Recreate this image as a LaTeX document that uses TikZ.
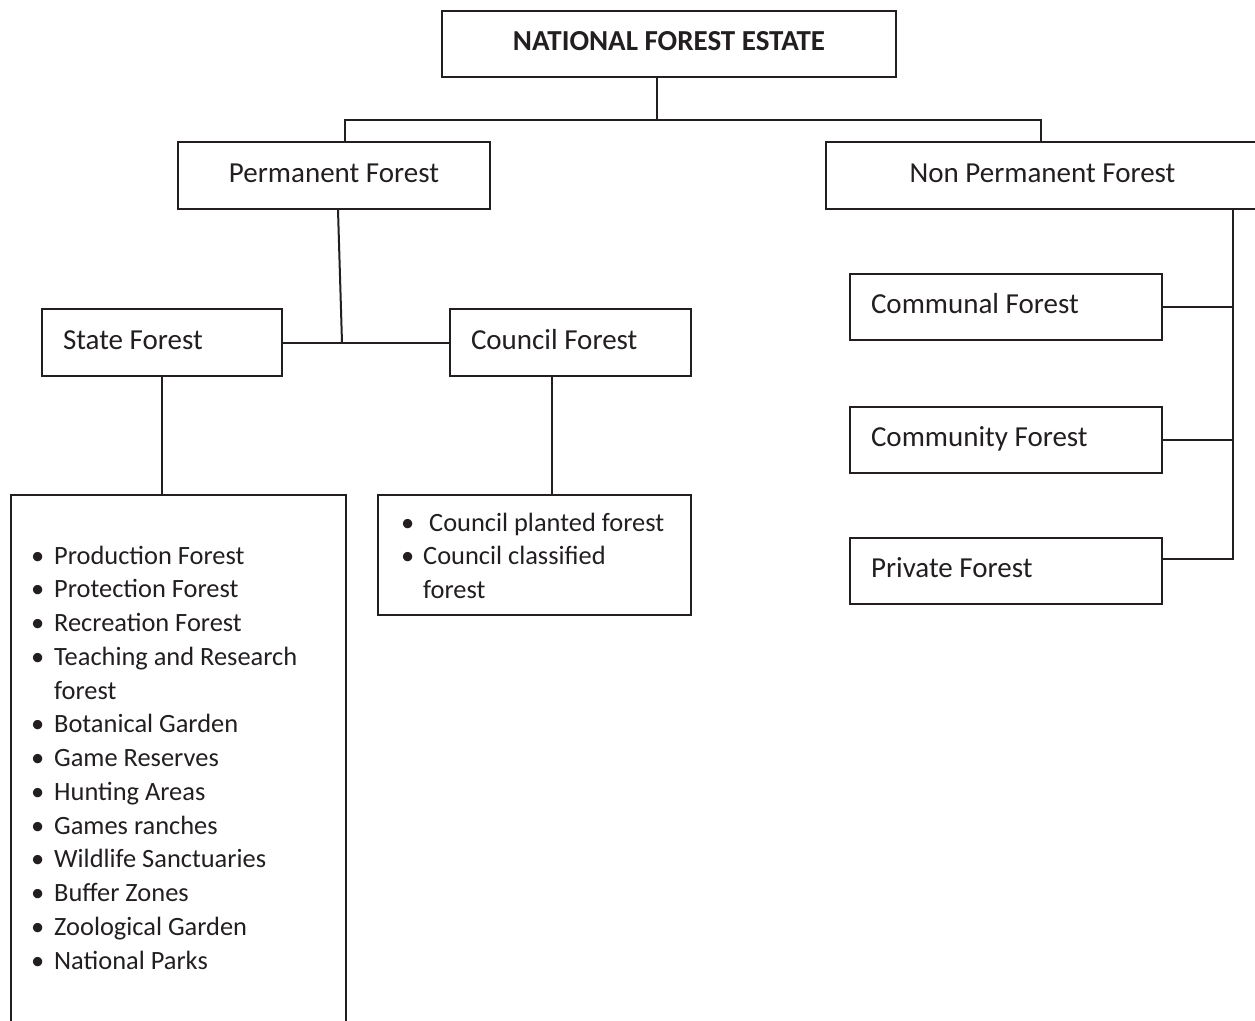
\documentclass[tikz,border=0pt]{standalone}
\usepackage{fontspec}
\setmainfont{Carlito}
\definecolor{ink}{HTML}{231F20}
% bullet item: fixed-width bullet column, then the text
\newcommand\itm[2][23pt]{\makebox[#1][l]{\textbullet}#2}
\newcommand\cont[2][23pt]{\makebox[#1][l]{}#2}
\tikzset{
  box/.style={draw=ink, line width=2pt, rectangle, inner ysep=0pt,
    text=ink, anchor=north west, font=\fontsize{29}{34}\selectfont,
    text height=20pt, text depth=7pt},
  lbox/.style={box, align=flush left, inner xsep=21pt},
  link/.style={draw=ink, line width=2pt},
  listtxt/.style={text=ink, inner sep=0pt, anchor=base west},
}
\begin{document}
\begin{tikzpicture}[x=1pt,y=-1pt]
\clip (0,0) rectangle (1255,1020);
\fill[white] (0,0) rectangle (1255,1020);

% top level
\node[box, font=\bfseries\fontsize{29}{34}\selectfont,
      minimum width=454pt, minimum height=66pt] (top) at (441,10) {NATIONAL FOREST ESTATE};

% second level
\node[box, minimum width=312pt, minimum height=67pt] (perm) at (177,141) {Permanent Forest};
\node[box, minimum width=433pt, minimum height=67pt] (nonperm) at (825,141) {Non Permanent Forest};

% permanent forest branches
\node[lbox, text width=198pt, minimum height=67pt] (state) at (41,308) {State Forest};
\node[lbox, text width=199pt, minimum height=67pt] (council) at (449,308) {Council Forest};

% non permanent forest branches
\node[lbox, text width=270pt, minimum height=66pt] (communal) at (849,273) {Communal Forest};
\node[lbox, text width=270pt, minimum height=66pt] (community) at (849,406) {Community Forest};
\node[lbox, text width=270pt, minimum height=66pt] (private) at (849,537) {Private Forest};

% list boxes
\node[box, minimum width=335pt, minimum height=560pt] (statelist) at (10,494) {};
\node[box, minimum width=313pt, minimum height=120pt] (councillist) at (377,494) {};

\node[listtxt] (stateitems) at (31,564) {\fontsize{26.4}{33.75}\selectfont
  \begin{tabular}[t]{@{}l@{}}
  \itm{Production Forest}\\
  \itm{Protection Forest}\\
  \itm{Recreation Forest}\\
  \itm{Teaching and Research}\\
  \cont{forest}\\
  \itm{Botanical Garden}\\
  \itm{Game Reserves}\\
  \itm{Hunting Areas}\\
  \itm{Games ranches}\\
  \itm{Wildlife Sanctuaries}\\
  \itm{Buffer Zones}\\
  \itm{Zoological Garden}\\
  \itm{National Parks}
  \end{tabular}};

\node[listtxt] (counciltems) at (401,531) {\fontsize{26.4}{33.5}\selectfont
  \begin{tabular}[t]{@{}l@{}}
  \itm[22pt]{\hspace{6pt}Council planted forest}\\
  \itm[22pt]{Council classified}\\
  \cont[22pt]{forest}
  \end{tabular}};

% junction points
\coordinate (tj) at (657,120);
\coordinate (pj) at (345,120);
\coordinate (nj) at (1041,120);
\coordinate (ps) at (338,0);
\coordinate (sx) at (342,0);
\coordinate (cx) at (552,0);
\coordinate (rb) at (1233,559);

% connectors
\draw[link] (top.south -| tj) -- (tj);
\draw[link] (perm.north -| pj) -- (pj) -- (nj) -- (nonperm.north -| nj);
\draw[link] (perm.south -| ps) -- (state.east -| sx);
\draw[link] (state.east) -- (council.west);
\draw[link] (state.south) -- (state.south |- statelist.north);
\draw[link] (council.south -| cx) -- (councillist.north -| cx);
\draw[link] (nonperm.south -| rb) -- (rb) -- (rb -| private.east);
\draw[link] (communal.east) -- (communal.east -| rb);
\draw[link] (community.east) -- (community.east -| rb);
\end{tikzpicture}
\end{document}
